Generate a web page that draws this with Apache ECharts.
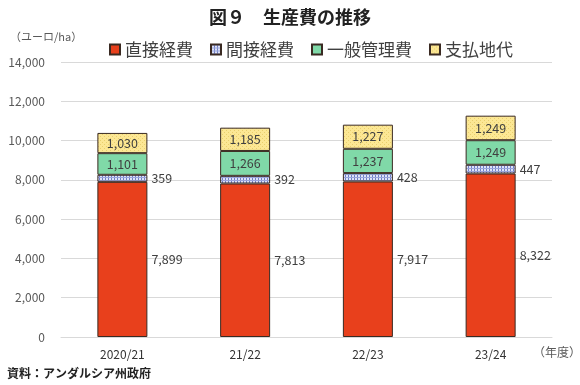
<!DOCTYPE html>
<html><head><meta charset="utf-8">
<script src="https://cdn.jsdelivr.net/npm/echarts@6/dist/echarts.min.js"></script>
<style>html,body{margin:0;padding:0;background:#fff}#c{width:580px;height:385px}</style>
</head><body><div id="c"></div>
<script>
const categories = ['2020/21', '21/22', '22/23', '23/24'];
const directCost = [7899, 7813, 7917, 8322];
const indirectCost = [359, 392, 428, 447];
const adminCost = [1101, 1266, 1237, 1249];
const rentCost = [1030, 1185, 1227, 1249];
const seriesNames = ['直接経費', '間接経費', '一般管理費', '支払地代'];
const yTicks = [0, 2000, 4000, 6000, 8000, 10000, 12000, 14000];

function bluePattern() {
  const c = document.createElement('canvas'); c.width = 3; c.height = 3;
  const g = c.getContext('2d');
  g.fillStyle = '#dfe3f7'; g.fillRect(0, 0, 3, 3);
  g.fillStyle = '#6f7fc8'; g.fillRect(0, 0, 1, 3);
  g.fillStyle = '#9aa5dc'; g.fillRect(0, 0, 3, 1);
  return {image: c, repeat: 'repeat'};
}
function yellowPattern() {
  const c = document.createElement('canvas'); c.width = 4; c.height = 4;
  const g = c.getContext('2d');
  g.fillStyle = '#fce794'; g.fillRect(0, 0, 4, 4);
  g.fillStyle = '#e9cf6e'; g.fillRect(0, 0, 1, 1); g.fillRect(2, 2, 1, 1);
  return {image: c, repeat: 'repeat'};
}
const F = '"Noto Sans CJK JP", "Noto Sans", sans-serif';
const chart = echarts.init(document.getElementById('c'));
const border = {borderColor: '#3a2a22', borderWidth: 1};
const insideLabel = {show: true, position: 'inside', color: '#404040', fontSize: 12.5, fontFamily: F, formatter: p => p.value.toLocaleString('en-US')};
const rightLabel = {show: true, position: 'right', distance: 4, color: '#404040', fontSize: 12.5, fontFamily: F, formatter: p => p.value.toLocaleString('en-US')};
chart.setOption({
  animation: false,
  title: {text: '図９　生産費の推移', left: 'center', top: 3, textStyle: {fontSize: 18, fontWeight: 'bold', color: '#222', fontFamily: F}},
  legend: {top: 36, left: 104, icon: 'rect', itemWidth: 10, itemHeight: 10, itemGap: 17,
    textStyle: {fontSize: 17, color: '#404040', fontFamily: F},
    data: seriesNames},
  grid: {left: 61, right: 28, top: 62, bottom: 48},
  xAxis: {type: 'category', data: categories,
    axisLine: {lineStyle: {color: '#d9d9d9'}}, axisTick: {show: false},
    axisLabel: {color: '#333', fontSize: 12, fontFamily: F, margin: 11}},
  yAxis: {type: 'value', min: 0, max: 14000, interval: 2000,
    axisLine: {show: false}, axisTick: {show: false},
    splitLine: {lineStyle: {color: '#d9d9d9'}},
    axisLabel: {color: '#595959', fontSize: 12, fontFamily: F, margin: 16, formatter: v => yTicks.includes(v) ? v.toLocaleString('en-US') : ''}},
  graphic: [
    {type: 'text', left: 10, top: 31, style: {text: '（ユーロ/ha）', fontSize: 11, fill: '#595959', fontFamily: F}},
    {type: 'text', left: 533, top: 346, style: {text: '（年度）', fontSize: 12, fill: '#595959', fontFamily: F}},
    {type: 'text', left: 7, top: 367, style: {text: '資料：アンダルシア州政府', fontSize: 12, fontWeight: 'bold', fill: '#222', fontFamily: F}}
  ],
  series: [
    {name: seriesNames[0], type: 'bar', stack: 's', data: directCost, barWidth: 50, itemStyle: Object.assign({color: '#e8401c'}, border), label: rightLabel},
    {name: seriesNames[1], type: 'bar', stack: 's', data: indirectCost, itemStyle: Object.assign({color: bluePattern()}, border), label: rightLabel},
    {name: seriesNames[2], type: 'bar', stack: 's', data: adminCost, itemStyle: Object.assign({color: '#80d9a8'}, border), label: insideLabel},
    {name: seriesNames[3], type: 'bar', stack: 's', data: rentCost, itemStyle: Object.assign({color: yellowPattern()}, border), label: insideLabel}
  ]
});
</script></body></html>
